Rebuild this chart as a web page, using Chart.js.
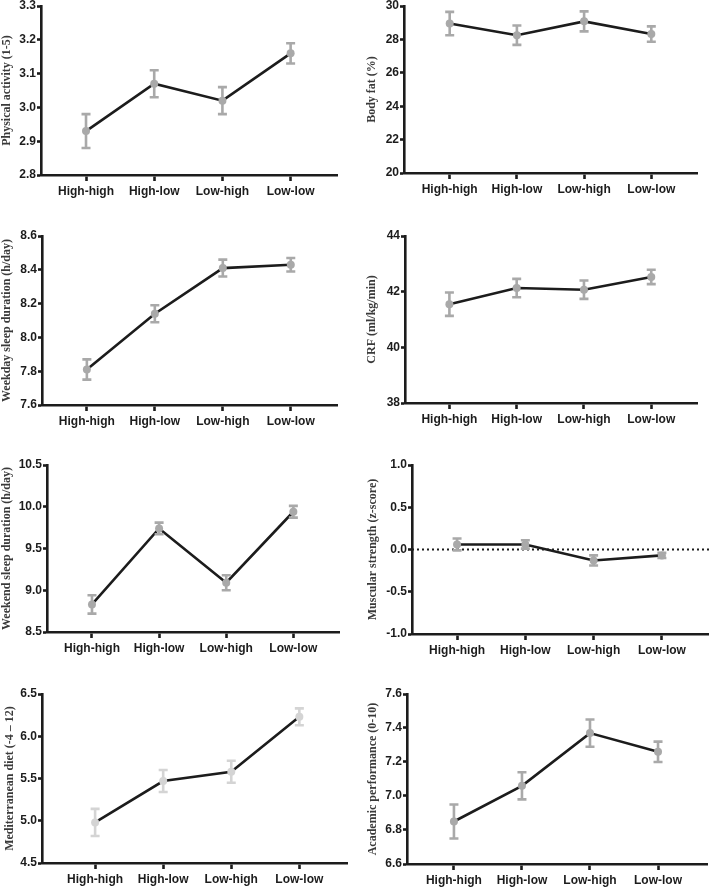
<!DOCTYPE html>
<html><head><meta charset="utf-8">
<script src="https://cdn.jsdelivr.net/npm/chart.js@4.4.1/dist/chart.umd.min.js"></script>
<style>
html,body{margin:0;padding:0;background:#fff;width:709px;height:889px;overflow:hidden;position:relative}
canvas{position:absolute}
</style></head><body>
<script>
// ---------- DATA ----------
const categories = ['High-high', 'High-low', 'Low-high', 'Low-low'];

const physicalActivity    = [2.93, 3.07, 3.02, 3.16];
const physicalActivityErr = [0.05, 0.04, 0.04, 0.03];
const physicalActivityTicks = ['2.8', '2.9', '3.0', '3.1', '3.2', '3.3'];

const bodyFat    = [28.95, 28.25, 29.08, 28.32];
const bodyFatErr = [0.70, 0.58, 0.60, 0.46];
const bodyFatTicks = ['20', '22', '24', '26', '28', '30'];

const weekdaySleep    = [7.81, 8.14, 8.41, 8.43];
const weekdaySleepErr = [0.06, 0.05, 0.05, 0.04];
const weekdaySleepTicks = ['7.6', '7.8', '8.0', '8.2', '8.4', '8.6'];

const crf    = [41.55, 42.13, 42.07, 42.53];
const crfErr = [0.42, 0.33, 0.33, 0.26];
const crfTicks = ['38', '40', '42', '44'];

const weekendSleep    = [8.83, 9.74, 9.09, 9.94];
const weekendSleepErr = [0.11, 0.07, 0.09, 0.07];
const weekendSleepTicks = ['8.5', '9.0', '9.5', '10.0', '10.5'];

const muscularStrength    = [0.06, 0.06, -0.13, -0.07];
const muscularStrengthErr = [0.07, 0.05, 0.06, 0.03];
const muscularStrengthTicks = ['-1.0', '-0.5', '0.0', '0.5', '1.0'];

const medDiet    = [4.98, 5.47, 5.58, 6.23];
const medDietErr = [0.16, 0.13, 0.13, 0.10];
const medDietTicks = ['4.5', '5.0', '5.5', '6.0', '6.5'];

const academic    = [6.85, 7.06, 7.37, 7.26];
const academicErr = [0.10, 0.08, 0.08, 0.06];
const academicTicks = ['6.6', '6.8', '7.0', '7.2', '7.4', '7.6'];

// ---------- PANELS (layout separate from data) ----------
const panels = [
  {title:'Physical activity (1-5)', values:physicalActivity, errors:physicalActivityErr, ticks:physicalActivityTicks, col:0, L:41, T:6, B:175, R:337, titlePad:0, xMin:-0.66, xMax:3.68, color:'#a9a9a9'},
  {title:'Body fat (%)', values:bodyFat, errors:bodyFatErr, ticks:bodyFatTicks, col:1, L:404, T:6, B:173, R:697, titlePad:10, xMin:-0.68, xMax:3.68, color:'#a9a9a9'},
  {title:'Weekday sleep duration (h/day)', values:weekdaySleep, errors:weekdaySleepErr, ticks:weekdaySleepTicks, col:0, L:42, T:236, B:405, R:337, titlePad:0, xMin:-0.66, xMax:3.68, color:'#a9a9a9'},
  {title:'CRF (ml/kg/min)', values:crf, errors:crfErr, ticks:crfTicks, col:1, L:405, T:236, B:403, R:697, titlePad:10, xMin:-0.66, xMax:3.68, color:'#a9a9a9'},
  {title:'Weekend sleep duration (h/day)', values:weekendSleep, errors:weekendSleepErr, ticks:weekendSleepTicks, col:0, L:47, T:465, B:632, R:339, titlePad:0, xMin:-0.67, xMax:3.68, color:'#a9a9a9'},
  {title:'Muscular strength (z-score)', values:muscularStrength, errors:muscularStrengthErr, ticks:muscularStrengthTicks, col:1, L:412, T:465, B:634, R:709, titlePad:11, xMin:-0.66, xMax:3.69, color:'#a9a9a9', zeroLine:true},
  {title:'Mediterranean diet (-4 – 12)', values:medDiet, errors:medDietErr, ticks:medDietTicks, col:0, L:42, T:694, B:863, R:347, titlePad:3, xMin:-0.78, xMax:3.7, color:'#d4d4d4'},
  {title:'Academic performance (0-10)', values:academic, errors:academicErr, ticks:academicTicks, col:1, L:407, T:694, B:864, R:707, titlePad:11, xMin:-0.69, xMax:3.72, color:'#a9a9a9'}
];

const INK = '#1c1c1c';

const errorBarPlugin = {
  id: 'errorBars',
  afterDatasetsDraw(chart) {
    const {ctx} = chart;
    const xs = chart.scales.x, ys = chart.scales.y;
    chart.data.datasets.forEach(ds => {
      if (!ds.errors) return;
      ctx.save();
      ctx.strokeStyle = ds.errorColor;
      ctx.lineWidth = 2.6;
      ds.data.forEach((pt, i) => {
        const e = ds.errors[i];
        const px = xs.getPixelForValue(pt.x);
        const yTop = ys.getPixelForValue(pt.y + e);
        const yBot = ys.getPixelForValue(pt.y - e);
        ctx.beginPath();
        ctx.moveTo(px, yTop - 1); ctx.lineTo(px, yBot + 1);
        ctx.moveTo(px - 4.5, yTop); ctx.lineTo(px + 4.5, yTop);
        ctx.moveTo(px - 4.5, yBot); ctx.lineTo(px + 4.5, yBot);
        ctx.stroke();
        ctx.beginPath();
        ctx.fillStyle = ds.errorColor;
        ctx.arc(px, ys.getPixelForValue(pt.y), 4, 0, Math.PI * 2);
        ctx.fill();
      });
      ctx.restore();
    });
  }
};

function build(p) {
  const boxLeft = p.col ? 355 : 0, boxW = 354;
  const padTop = 14, xH = 36;
  const boxTop = p.T - padTop;
  const boxH = (p.B - p.T) + padTop + xH;
  const c = document.createElement('canvas');
  c.width = boxW; c.height = boxH;
  c.style.left = boxLeft + 'px'; c.style.top = boxTop + 'px';
  c.style.width = boxW + 'px'; c.style.height = boxH + 'px';
  document.body.appendChild(c);
  const yW = p.L - boxLeft;
  const padR = boxLeft + boxW - p.R;
  const tickVals = p.ticks.map(t => parseFloat(t));

  const datasets = [{
    data: p.values.map((v, i) => ({x: i, y: v})),
    errors: p.errors, errorColor: p.color,
    borderColor: INK, borderWidth: 2.6,
    pointRadius: 0, tension: 0, fill: false
  }];
  if (p.zeroLine) {
    datasets.push({
      data: [{x: p.xMin, y: 0}, {x: p.xMax, y: 0}],
      borderColor: INK, borderWidth: 2, borderDash: [2, 3],
      pointRadius: 0, fill: false
    });
  }
  const tickFont = {family: "'Liberation Sans', Arial, sans-serif", weight: 'bold', size: 12};
  new Chart(c, {
    type: 'line',
    data: {datasets},
    plugins: [errorBarPlugin],
    options: {
      responsive: false, animation: false, devicePixelRatio: 1,
      layout: {padding: {top: padTop, right: padR, left: 0, bottom: 0}},
      plugins: {legend: {display: false}, tooltip: {enabled: false}},
      scales: {
        x: {
          type: 'linear', min: p.xMin, max: p.xMax,
          afterBuildTicks: ax => { ax.ticks = categories.map((_, i) => ({value: i})); },
          afterFit: ax => { ax.height = xH; },
          grid: {display: true, drawOnChartArea: false, drawTicks: true, tickLength: 6, tickWidth: 2.6, tickColor: INK, color: INK},
          border: {display: true, color: INK, width: 2.6},
          ticks: {callback: (v) => categories[v], font: tickFont, color: INK, padding: 3, maxRotation: 0, autoSkip: false}
        },
        y: {
          type: 'linear', min: tickVals[0], max: tickVals[tickVals.length - 1],
          afterBuildTicks: ax => { ax.ticks = tickVals.map(v => ({value: v})); },
          afterFit: ax => { ax.width = yW; },
          grid: {display: true, drawOnChartArea: false, drawTicks: true, tickLength: 4, tickWidth: 2.6, tickColor: INK, color: INK},
          border: {display: true, color: INK, width: 2.6},
          ticks: {callback: (v, i) => p.ticks[i], font: tickFont, color: INK, padding: 1, autoSkip: false},
          title: {display: true, text: p.title, color: '#3a3a3a',
                  font: {family: "'Liberation Serif', 'Times New Roman', serif", weight: 'bold', size: 12},
                  padding: {top: p.titlePad, bottom: 0}}
        }
      }
    }
  });
}
panels.forEach(build);
</script>
</body></html>
